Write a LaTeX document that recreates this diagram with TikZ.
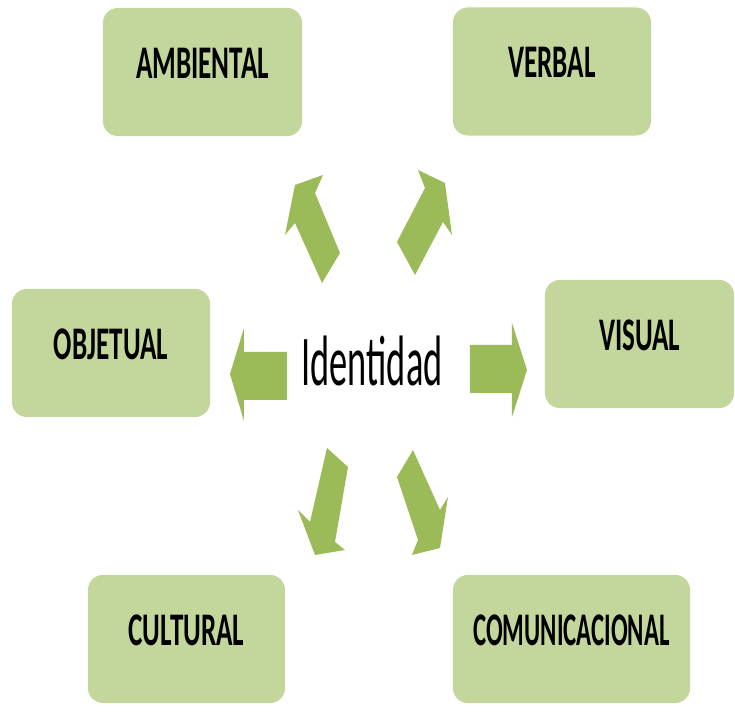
\documentclass[tikz,border=0pt]{standalone}
\usepackage{fontspec}
\setmainfont{Carlito}
\usepackage{graphicx}
\usepackage{tikz}

\definecolor{boxgreen}{HTML}{C3D69B}
\definecolor{arrowgreen}{HTML}{9BBB59}
\newcommand{\narrow}[2][0.58]{\scalebox{#1}[1]{#2}}

\begin{document}
\begin{tikzpicture}[x=0.01cm, y=-0.01cm,
		box/.style={fill=boxgreen, rounded corners=0.15cm, minimum height=1.28cm,
			text height=0.31cm, text depth=0.18cm,
			font=\fontsize{13.3}{16}\selectfont\bfseries},
		blockarrow/.style={fill=arrowgreen}]
		\useasboundingbox (0, 0) rectangle (735, 713);
		% draw boxes
		\node [box, minimum width=1.99cm] (ambiental) at (202.5, 72) {\narrow{AMBIENTAL}};
		\node [box, minimum width=1.98cm] (verbal) at (552, 71.5) {\narrow{VERBAL}};
		\node [box, minimum width=1.98cm] (objetual) at (111, 353) {\narrow{OBJETUAL}};
		\node [box, minimum width=1.89cm] (visual) at (639.5, 344) {\narrow{VISUAL}};
		\node [box, minimum width=1.97cm] (cultural) at (186.5, 639) {\narrow{CULTURAL}};
		\node [box, minimum width=2.37cm] (comunicacional) at (571.5, 639) {\narrow[0.53]{COMUNICACIONAL}};
		% draw centre word
		\node [font=\fontsize{20.3}{24}\selectfont] (identidad) at (372, 361) {\narrow[0.51]{Identidad}};
		% draw arrows up
		\fill [blockarrow] (295, 185) -- (323, 175) -- (315, 193) -- (340, 253) -- (322, 283) -- (295, 223) -- (285, 235) -- cycle;
		\fill [blockarrow] (445, 183) -- (452, 235) -- (443, 222) -- (415, 275) -- (397, 242) -- (425, 188) -- (418, 170) -- cycle;
		% draw arrows left and right
		\fill [blockarrow] (287, 352) -- (287, 400) -- (244, 400) -- (244, 421) -- (230, 374) -- (244, 328) -- (244, 352) -- cycle;
		\fill [blockarrow] (470, 345) -- (470, 393) -- (512, 393) -- (512, 417) -- (527, 370) -- (512, 323) -- (512, 345) -- cycle;
		% draw arrows down
		\fill [blockarrow] (327, 448) -- (348, 467) -- (335, 542) -- (345, 550) -- (315, 555) -- (298, 510) -- (310, 522) -- cycle;
		\fill [blockarrow] (413, 450) -- (440, 510) -- (448, 497) -- (440, 548) -- (412, 555) -- (418, 540) -- (397, 477) -- cycle;
	\end{tikzpicture}
\end{document}
